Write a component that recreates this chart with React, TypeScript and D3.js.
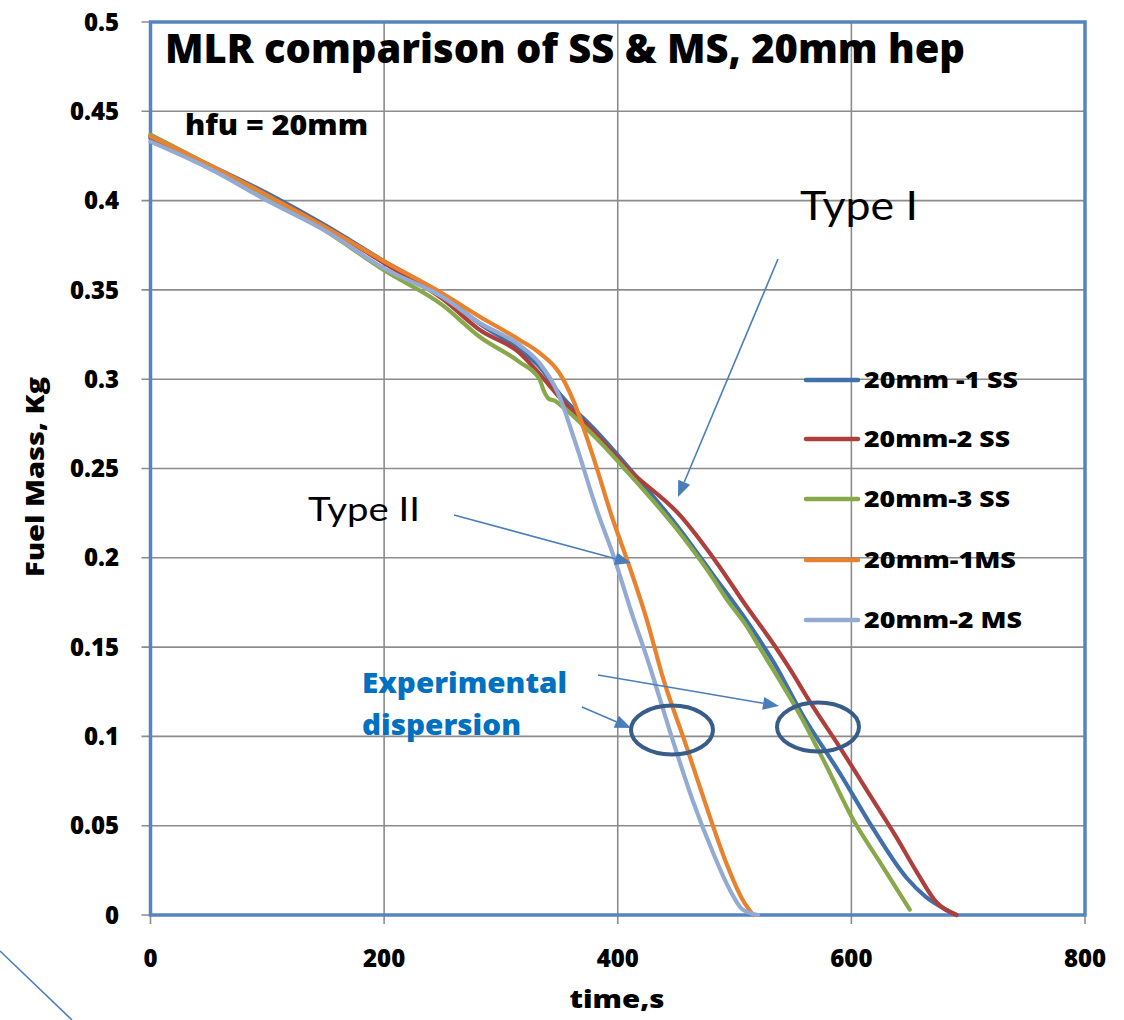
import React from "react";
import * as d3 from "d3";

const xTicks = [0, 200, 400, 600, 800];
const yTicks = [0, 0.05, 0.1, 0.15, 0.2, 0.25, 0.3, 0.35, 0.4, 0.45, 0.5];
const yTickLabels = ["0", "0.05", "0.1", "0.15", "0.2", "0.25", "0.3", "0.35", "0.4", "0.45", "0.5"];
const xTickLabels = ["0", "200", "400", "600", "800"];

const seriesNames = ["20mm -1 SS", "20mm-2 SS", "20mm-3 SS", "20mm-1MS", "20mm-2 MS"];
const seriesColors = ["#4070AA", "#AD403D", "#88A84A", "#E8822F", "#93ABD3"];

const ss1: [number, number][] = [
  [0, 0.435], [50, 0.42], [100, 0.404], [150, 0.386], [200, 0.366], [250, 0.347],
  [282, 0.331], [316, 0.3165], [333, 0.307], [350, 0.292], [380, 0.272], [410, 0.25],
  [453, 0.216], [481, 0.191], [510, 0.165], [533, 0.142], [560, 0.11], [590, 0.0795],
  [618, 0.049], [647, 0.021], [664, 0.01], [681, 0.003], [690, 0],
];
const ss2: [number, number][] = [
  [0, 0.436], [50, 0.419], [100, 0.403], [150, 0.385], [200, 0.365], [250, 0.345],
  [282, 0.3275], [316, 0.3147], [333, 0.303], [350, 0.29], [380, 0.27], [410, 0.249],
  [453, 0.224], [485, 0.197], [510, 0.173], [533, 0.152], [550, 0.135], [562, 0.122],
  [590, 0.094], [616, 0.067], [639, 0.043], [656, 0.024], [673, 0.007], [690, 0],
];
const ss3: [number, number][] = [
  [0, 0.437], [50, 0.42], [100, 0.402], [150, 0.383], [200, 0.361], [250, 0.3415],
  [282, 0.3236], [316, 0.3096], [333, 0.3], [337, 0.293], [341, 0.289], [346, 0.288],
  [352, 0.285], [380, 0.268], [407, 0.249], [453, 0.214], [481, 0.189], [493, 0.177],
  [510, 0.162], [524, 0.147], [539, 0.131], [556, 0.112], [579, 0.083], [601, 0.054],
  [624, 0.03], [650, 0.003],
];
const ms1: [number, number][] = [
  [0, 0.436], [50, 0.42], [100, 0.403], [150, 0.385], [200, 0.366], [250, 0.348],
  [282, 0.335], [316, 0.322], [333, 0.3147], [350, 0.3035], [362, 0.288], [379, 0.2565],
  [395, 0.223], [409, 0.197], [425, 0.165], [438.6, 0.133], [459, 0.094], [476, 0.0605],
  [493, 0.029], [507, 0.0084], [516, 0],
];
const ms2: [number, number][] = [
  [0, 0.433], [50, 0.418], [100, 0.4], [150, 0.383], [200, 0.362], [250, 0.346],
  [282, 0.3315], [316, 0.319], [333, 0.309], [349, 0.292], [363, 0.266], [382, 0.227],
  [397.5, 0.199], [410, 0.173], [427.5, 0.139], [447, 0.098], [464, 0.0644],
  [481.5, 0.035], [496, 0.014], [507, 0.003], [520, 0],
];
const seriesData = [ss1, ss2, ss3, ms1, ms2];

const W = 1124;
const H = 1020;
const x = d3.scaleLinear().domain([0, 800]).range([150.5, 1085]);
const y = d3.scaleLinear().domain([0, 0.5]).range([915, 22]);

const line = d3
  .line<[number, number]>()
  .x((d) => x(d[0]))
  .y((d) => y(d[1]))
  .curve(d3.curveMonotoneX);

const ARROW = "#4A7EBB";
const FONT = "'Open Sans', 'Liberation Sans', sans-serif";
const FONT2 = "Lato, 'Open Sans', sans-serif";
const BOLD = 800;

function Arrow({ x1, y1, x2, y2 }: { x1: number; y1: number; x2: number; y2: number }) {
  const ang = Math.atan2(y2 - y1, x2 - x1);
  const len = 16;
  const half = 6.5;
  const bx = x2 - len * Math.cos(ang);
  const by = y2 - len * Math.sin(ang);
  const px = -Math.sin(ang) * half;
  const py = Math.cos(ang) * half;
  return (
    <g>
      <line x1={x1} y1={y1} x2={bx} y2={by} stroke={ARROW} strokeWidth={1.6} />
      <polygon points={`${x2},${y2} ${bx + px},${by + py} ${bx - px},${by - py}`} fill={ARROW} />
    </g>
  );
}

const legendWidths = [154, 146, 146, 152, 158];

export default function App() {
  const legendY = [380, 439, 499, 560, 620];
  return (
    <svg
      width={W}
      height={H}
      style={{ position: "absolute", left: 0, top: 0, background: "#fff" }}
      fontFamily={FONT}
    >
      <rect x={0} y={0} width={W} height={H} fill="#fff" />
      {xTicks.map((t) => (
        <line key={"gx" + t} x1={x(t)} x2={x(t)} y1={y(0.5)} y2={y(0) + 9} stroke="#8C8C8C" strokeWidth={1.6} />
      ))}
      {yTicks.map((t) => (
        <line key={"gy" + t} x1={x(0) - 9} x2={x(800)} y1={y(t)} y2={y(t)} stroke="#8C8C8C" strokeWidth={1.6} />
      ))}
      <rect x={x(0)} y={y(0.5)} width={x(800) - x(0)} height={y(0) - y(0.5)} fill="none" stroke="#5585C0" strokeWidth={3.5} />

      {seriesData.map((d, i) => (
        <path key={"s" + i} d={line(d) || ""} fill="none" stroke={seriesColors[i]} strokeWidth={4.2} strokeLinecap="round" strokeLinejoin="round" />
      ))}

      {yTicks.map((t, i) => (
        <text key={"yl" + t} x={119} y={y(t)} dy="0.36em" textAnchor="end" fontSize={24} fontWeight={BOLD} fill="#000">
          {yTickLabels[i]}
        </text>
      ))}
      {xTicks.map((t, i) => (
        <text key={"xl" + t} x={x(t)} y={958} dy="0.36em" textAnchor="middle" fontSize={24} fontWeight={BOLD} fill="#000">
          {xTickLabels[i]}
        </text>
      ))}

      <text x={617} y={999} dy="0.36em" textAnchor="middle" fontSize={25} fontWeight={BOLD} fill="#000" textLength={95} lengthAdjust="spacingAndGlyphs">
        time,s
      </text>
      <text transform="translate(35,477) rotate(-90)" textAnchor="middle" dy="0.36em" fontSize={25} fontWeight={BOLD} fill="#000" textLength={200} lengthAdjust="spacingAndGlyphs">
        Fuel Mass, Kg
      </text>

      <text x={165} y={63} fontSize={40} fontWeight={BOLD} fill="#000" textLength={800} lengthAdjust="spacingAndGlyphs">
        MLR comparison of SS &amp; MS, 20mm hep
      </text>
      <text x={185} y={135} fontSize={28} fontWeight={BOLD} fill="#000" textLength={183} lengthAdjust="spacingAndGlyphs">
        hfu = 20mm
      </text>

      {seriesNames.map((n, i) => (
        <g key={"lg" + i}>
          <line x1={806} x2={858} y1={legendY[i]} y2={legendY[i]} stroke={seriesColors[i]} strokeWidth={4.5} strokeLinecap="round" />
          <text x={864} y={legendY[i]} dy="0.36em" fontSize={23} fontWeight={BOLD} fill="#000" textLength={legendWidths[i]} lengthAdjust="spacingAndGlyphs">
            {n}
          </text>
        </g>
      ))}

      <text x={800} y={220} fontSize={40} fill="#000" fontFamily={FONT2} textLength={118} lengthAdjust="spacingAndGlyphs">
        Type I
      </text>
      <text x={308} y={521} fontSize={33} fill="#000" fontFamily={FONT2} textLength={112} lengthAdjust="spacingAndGlyphs">
        Type II
      </text>
      <text x={362} y={693} fontSize={28} fontWeight={BOLD} fill="#0070C0" textLength={205} lengthAdjust="spacingAndGlyphs">
        Experimental
      </text>
      <text x={362} y={735} fontSize={28} fontWeight={BOLD} fill="#0070C0" textLength={159} lengthAdjust="spacingAndGlyphs">
        dispersion
      </text>

      <Arrow x1={778} y1={259} x2={678} y2={497} />
      <Arrow x1={454} y1={515} x2={631} y2={563} />
      <Arrow x1={598} y1={675} x2={779} y2={706} />
      <Arrow x1={582} y1={707} x2={631} y2={728} />

      <ellipse cx={672} cy={730} rx={41} ry={24.5} fill="none" stroke="#385D8A" strokeWidth={4} />
      <ellipse cx={818} cy={727} rx={41} ry={24.5} fill="none" stroke="#385D8A" strokeWidth={4} />

      <line x1={0} y1={951} x2={72} y2={1020} stroke={ARROW} strokeWidth={1.6} />
    </svg>
  );
}
